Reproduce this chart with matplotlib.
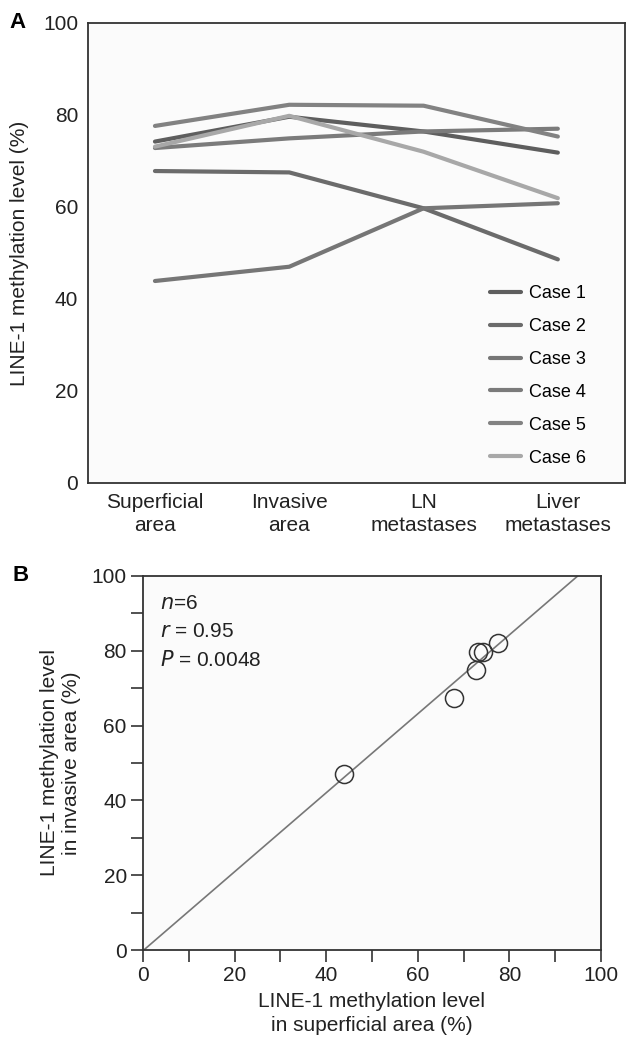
import numpy as np
import matplotlib
matplotlib.use("Agg")
import matplotlib.pyplot as plt

plt.rcParams['font.family'] = ['Liberation Sans', 'DejaVu Sans']
plt.rcParams['font.size'] = 15

# panel A data
sites = ['Superficial\narea', 'Invasive\narea', 'LN\nmetastases', 'Liver\nmetastases']
case_names = ['Case 1', 'Case 2', 'Case 3', 'Case 4', 'Case 5', 'Case 6']
case1 = [74.2, 79.6, 76.4, 71.8]
case2 = [67.8, 67.5, 59.7, 48.6]
case3 = [43.9, 47.0, 59.7, 60.8]
case4 = [72.8, 74.9, 76.4, 77.0]
case5 = [77.6, 82.2, 82.0, 75.3]
case6 = [73.1, 79.8, 72.0, 61.9]
case_colors = ['#5e5e5e', '#6b6b6b', '#767676', '#7b7b7b', '#828282', '#a8a8a8']

# panel B data (superficial vs invasive)
superficial = [case1[0], case2[0], case3[0], case4[0], case5[0], case6[0]]
invasive = [case1[1], case2[1], case3[1], case4[1], case5[1], case6[1]]
stats_lines = ['$n$=6', '$r$ = 0.95', '$P$ = 0.0048']

fig = plt.figure(figsize=(6.41, 10.40), dpi=100)
bg = '#fbfbfb'
spine_col = '#333333'
txt_col = '#222222'

# ---- panel A ----
axA = fig.add_axes([0.137, 0.5356, 0.838, 0.4424])
axA.set_facecolor(bg)
all_cases = [case1, case2, case3, case4, case5, case6]
for vals, name, col in zip(all_cases, case_names, case_colors):
    axA.plot(range(len(sites)), vals, color=col, lw=3, solid_capstyle='round', label=name)
axA.set_xlim(-0.5, 3.5)
axA.set_ylim(0, 100)
axA.set_yticks([0, 20, 40, 60, 80, 100])
axA.set_xticks(range(len(sites)))
axA.set_xticklabels(sites, linespacing=1.3)
axA.tick_params(length=0, pad=7, colors=txt_col)
axA.tick_params(axis='x', pad=7)
for s in axA.spines.values():
    s.set_color(spine_col)
    s.set_linewidth(1.3)
axA.set_ylabel('LINE-1 methylation level (%)', labelpad=10, color=txt_col)
axA.legend(loc='lower right', frameon=False, fontsize=13, handlelength=1.75,
           labelspacing=0.88, handletextpad=0.4, borderaxespad=0,
           bbox_to_anchor=(0.94, 0.02))
fig.text(0.015, 0.978, 'A', fontsize=16, fontweight='bold', va='center')

# ---- panel B ----
axB = fig.add_axes([0.223, 0.0865, 0.7146, 0.3597])
axB.set_facecolor(bg)
slope, icpt = np.polyfit(superficial, invasive, 1)
xs = np.array([-5, 105])
axB.plot(xs, slope * xs + icpt, color='#777777', lw=1.2)
axB.plot(superficial, invasive, 'o', ms=13, mfc='none', mec='#333333', mew=1.1)
axB.set_xlim(0, 100)
axB.set_ylim(0, 100)
axB.set_xticks(np.arange(0, 101, 20))
axB.set_xticks(np.arange(0, 101, 10), minor=True)
axB.set_yticks(np.arange(0, 101, 20))
axB.set_yticks(np.arange(0, 101, 10), minor=True)
axB.tick_params(which='both', direction='out', length=8.6, width=1.2, color=spine_col,
                labelcolor=txt_col)
axB.tick_params(axis='y', pad=3)
axB.tick_params(axis='x', pad=3)
for s in axB.spines.values():
    s.set_color(spine_col)
    s.set_linewidth(1.3)
axB.set_xlabel('LINE-1 methylation level\nin superficial area (%)', color=txt_col,
               labelpad=5, linespacing=1.3)
axB.set_ylabel('LINE-1 methylation level\nin invasive area (%)', color=txt_col,
               labelpad=8, linespacing=1.15)
for i, t in enumerate(stats_lines):
    axB.text(0.038, 0.927 - i * 0.076, t, transform=axB.transAxes, va='center', ha='left',
             color=txt_col)
fig.text(0.02, 0.447, 'B', fontsize=16, fontweight='bold', va='center')

fig.savefig('out.png', dpi=100)
